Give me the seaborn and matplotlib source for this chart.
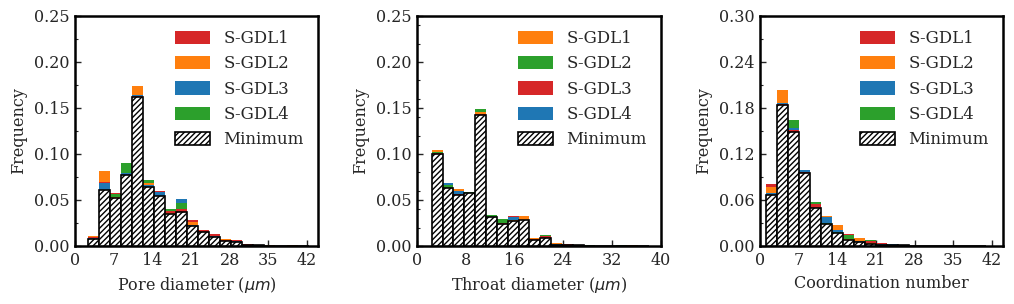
import numpy as np
import pandas as pd
import matplotlib
matplotlib.use("Agg")
import matplotlib.pyplot as plt
import seaborn as sns
from matplotlib.ticker import MultipleLocator

# ---------------- data ----------------
series_labels = ["S-GDL1", "S-GDL2", "S-GDL3", "S-GDL4"]

# Pore diameter histogram (bins start 2.3, width 2.0, 20 bins)
pore_bin_start = 2.3
pore_bin_width = 2.0
pore_s1 = [0.0095, 0.070, 0.0578, 0.0775, 0.163, 0.0645, 0.0601, 0.0375, 0.0405, 0.0278,
           0.0177, 0.0125, 0.0060, 0.0065, 0.0020, 0.0012, 0.0006, 0.0005, 0.0003, 0.0003]
pore_s2 = [0.0110, 0.081, 0.0530, 0.0775, 0.1735, 0.068, 0.0548, 0.0360, 0.0370, 0.0265,
           0.0155, 0.0100, 0.0078, 0.0055, 0.0015, 0.0010, 0.0006, 0.0004, 0.0006, 0.0004]
pore_s3 = [0.0090, 0.0685, 0.0525, 0.0795, 0.1645, 0.0665, 0.0583, 0.0352, 0.0510, 0.0230,
           0.0152, 0.0105, 0.0065, 0.0050, 0.0015, 0.0008, 0.0012, 0.0004, 0.0003, 0.0003]
pore_s4 = [0.0075, 0.061, 0.0560, 0.0900, 0.162, 0.0713, 0.0543, 0.0405, 0.0467, 0.0220,
           0.0150, 0.0098, 0.0055, 0.0047, 0.0014, 0.0008, 0.0005, 0.0004, 0.0003, 0.0003]
pore_colors = ["#d62728", "#ff7f0e", "#1f77b4", "#2ca02c"]

# Throat diameter histogram (bins start 2.42, width 1.78, 20 bins)
throat_bin_start = 2.42
throat_bin_width = 1.78
throat_s1 = [0.1047, 0.0630, 0.0620, 0.0580, 0.1455, 0.0320, 0.0245, 0.0280, 0.0322, 0.0087,
             0.0090, 0.0033, 0.0012, 0.0010, 0.0012, 0.0002, 0.0004, 0.0010, 0.0008, 0.0002]
throat_s2 = [0.1025, 0.0665, 0.0558, 0.0592, 0.1492, 0.0335, 0.0293, 0.0272, 0.0280, 0.0070,
             0.0123, 0.0015, 0.0010, 0.0008, 0.0006, 0.0002, 0.0003, 0.0006, 0.0005, 0.0001]
throat_s3 = [0.1015, 0.0630, 0.0565, 0.0580, 0.1430, 0.0320, 0.0245, 0.0322, 0.0278, 0.0078,
             0.0112, 0.0012, 0.0018, 0.0010, 0.0005, 0.0002, 0.0003, 0.0005, 0.0005, 0.0001]
throat_s4 = [0.1003, 0.0680, 0.0598, 0.0580, 0.1420, 0.0318, 0.0240, 0.0310, 0.0285, 0.0065,
             0.0085, 0.0025, 0.0008, 0.0006, 0.0004, 0.0002, 0.0005, 0.0004, 0.0004, 0.0001]
throat_colors = ["#ff7f0e", "#2ca02c", "#d62728", "#1f77b4"]

# Coordination number histogram (bins start 1, width 2, 20 bins)
coord_bin_start = 1.0
coord_bin_width = 2.0
coord_s1 = [0.0810, 0.1850, 0.1508, 0.0960, 0.0543, 0.0287, 0.0170, 0.0156, 0.0052, 0.0065,
            0.0039, 0.0010, 0.0008, 0.0004, 0.0003, 0.0002, 0.0003, 0.0002, 0.0001, 0.0003]
coord_s2 = [0.0770, 0.2040, 0.1490, 0.0970, 0.0500, 0.0387, 0.0269, 0.0091, 0.0099, 0.0035,
            0.0030, 0.0012, 0.0010, 0.0005, 0.0004, 0.0003, 0.0002, 0.0002, 0.0002, 0.0004]
coord_s3 = [0.0690, 0.1865, 0.1534, 0.0995, 0.0490, 0.0375, 0.0213, 0.0082, 0.0060, 0.0030,
            0.0020, 0.0030, 0.0008, 0.0003, 0.0003, 0.0002, 0.0002, 0.0001, 0.0002, 0.0001]
coord_s4 = [0.0669, 0.1840, 0.1647, 0.0952, 0.0574, 0.0298, 0.0185, 0.0145, 0.0047, 0.0073,
            0.0017, 0.0010, 0.0007, 0.0003, 0.0002, 0.0002, 0.0002, 0.0001, 0.0001, 0.0001]
coord_colors = ["#d62728", "#ff7f0e", "#1f77b4", "#2ca02c"]

pore_xticks = [0, 7, 14, 21, 28, 35, 42]
throat_xticks = [0, 8, 16, 24, 32, 40]
coord_xticks = [0, 7, 14, 21, 28, 35, 42]
freq_ticks_a = [0.00, 0.05, 0.10, 0.15, 0.20, 0.25]
freq_ticks_b = [0.00, 0.06, 0.12, 0.18, 0.24, 0.30]

# ---------------- style ----------------
sns.set_theme(style="white")
plt.rcParams["font.family"] = ["DejaVu Serif"]
plt.rcParams["mathtext.fontset"] = "dejavusans"
plt.rcParams["hatch.linewidth"] = 1.0
FS = 11.5
LFS = 12

fig = plt.figure(figsize=(10.14, 3.04), dpi=100)
positions = [
    [0.0740, 0.1908, 0.2396, 0.7566],
    [0.4112, 0.1908, 0.2406, 0.7566],
    [0.7495, 0.1908, 0.2396, 0.7566],
]


def draw_panel(ax, start, width, series, colors, xlim, xticks, yticks, yminor, xlabel):
    n = len(series[0])
    edges = [float(e) for e in start + width * np.arange(n + 1)]
    centers = 0.5 * (np.array(edges[:-1]) + np.array(edges[1:]))
    mat = np.array(series, dtype=float)
    for vals, lab, col in zip(series, series_labels, colors):
        k = len(ax.patches)
        df = pd.DataFrame({"x": centers, "w": np.asarray(vals, dtype=float)})
        sns.histplot(data=df, x="x", weights="w", bins=edges, color=col, edgecolor="none",
                     linewidth=0, alpha=1, label=lab, ax=ax)
        for j, p in enumerate(ax.patches[k:]):
            rank = int((mat[:, j] > vals[j]).sum())
            p.set_zorder(2 + 0.1 * rank)
    k = len(ax.patches)
    dfm = pd.DataFrame({"x": centers, "w": mat.min(axis=0)})
    sns.histplot(data=dfm, x="x", weights="w", bins=edges, color="white",
                 edgecolor="black", linewidth=1.2, hatch="//////", alpha=1,
                 label="Minimum", ax=ax)
    for p in ax.patches[k:]:
        p.set_zorder(3)

    ax.set_xlim(*xlim)
    ax.set_ylim(yticks[0], yticks[-1])
    ax.set_xticks(xticks)
    ax.set_yticks(yticks)
    ax.set_yticklabels([f"{t:.2f}" for t in yticks])
    ax.yaxis.set_minor_locator(MultipleLocator(yminor))
    ax.tick_params(axis="both", which="major", direction="in", length=4.5, width=1.0,
                   labelsize=FS, left=True, bottom=True, top=False, right=False, pad=4)
    ax.tick_params(axis="y", which="minor", direction="in", length=2.5, width=0.8, left=True)
    for s in ax.spines.values():
        s.set_linewidth(1.8)
        s.set_color("black")
    ax.set_xlabel(xlabel, fontsize=FS, labelpad=5)
    ax.set_ylabel("Frequency", fontsize=FS, labelpad=5)
    ax.legend(loc="upper right", frameon=False, fontsize=LFS, handlelength=2.1,
              handleheight=0.85, labelspacing=0.5, handletextpad=0.8,
              borderaxespad=0.45)


ax1 = fig.add_axes(positions[0])
draw_panel(ax1, pore_bin_start, pore_bin_width, [pore_s1, pore_s2, pore_s3, pore_s4],
           pore_colors, (0, 44), pore_xticks, freq_ticks_a, 0.025, r"Pore diameter ($\mu m$)")
ax2 = fig.add_axes(positions[1])
draw_panel(ax2, throat_bin_start, throat_bin_width,
           [throat_s1, throat_s2, throat_s3, throat_s4],
           throat_colors, (0, 40), throat_xticks, freq_ticks_a, 0.02, r"Throat diameter ($\mu m$)")
ax3 = fig.add_axes(positions[2])
draw_panel(ax3, coord_bin_start, coord_bin_width, [coord_s1, coord_s2, coord_s3, coord_s4],
           coord_colors, (0, 44), coord_xticks, freq_ticks_b, 0.03, "Coordination number")

fig.savefig("out.png", dpi=100)
